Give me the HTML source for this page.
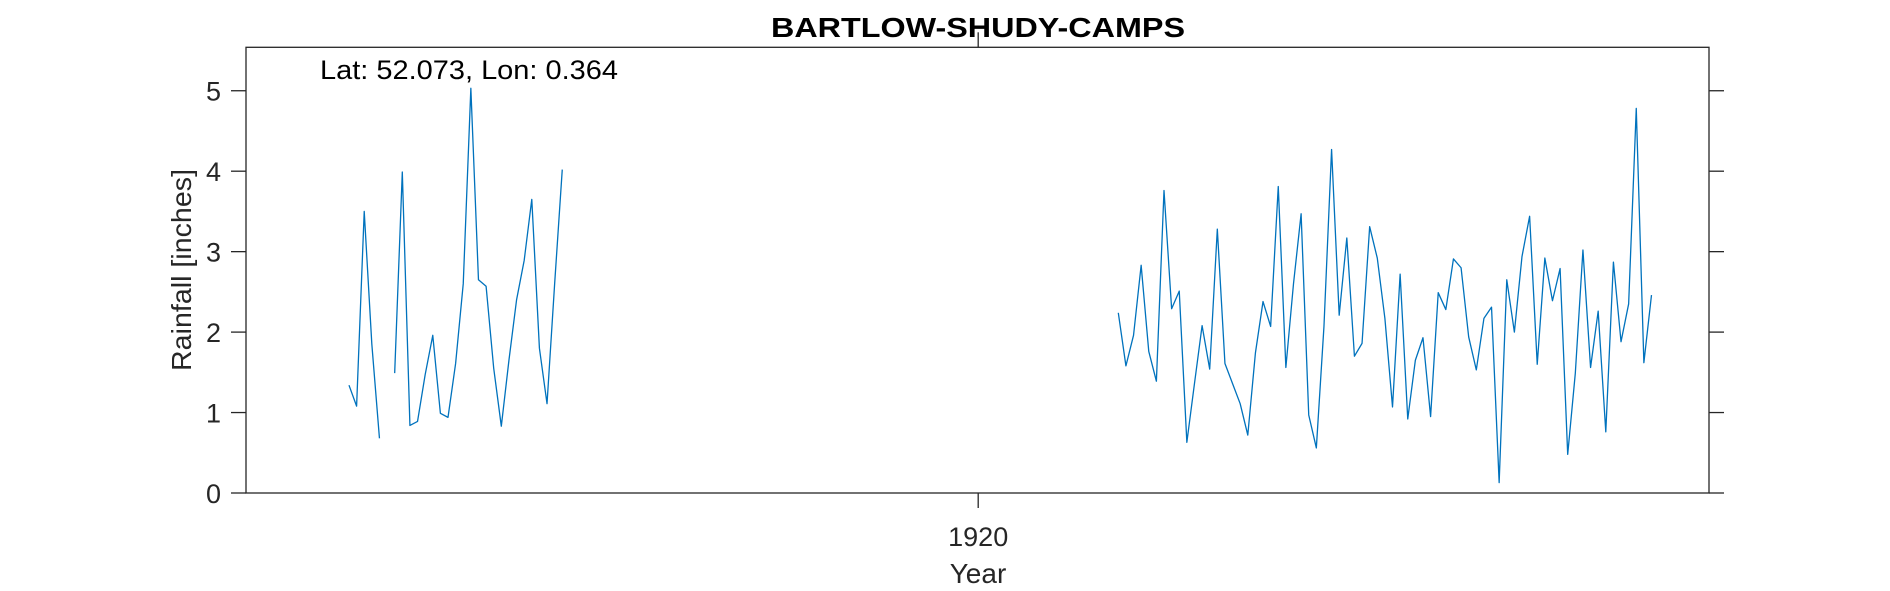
<!DOCTYPE html>
<html><head><meta charset="utf-8"><style>
html,body{margin:0;padding:0;background:#fff;}
svg{display:block;font-family:"Liberation Sans",Arial,sans-serif;}
</style></head><body>
<svg id="chart" width="1890" height="591" viewBox="0 0 1890 591" xmlns="http://www.w3.org/2000/svg">
<rect width="1890" height="591" fill="#fff"/>
<text x="978" y="37" text-anchor="middle" font-size="28" font-weight="bold" fill="#000" textLength="414" lengthAdjust="spacingAndGlyphs">BARTLOW-SHUDY-CAMPS</text>
<g id="axes"></g>
<g id="series"></g>
<text x="320" y="79" font-size="27" fill="#000" textLength="298" lengthAdjust="spacingAndGlyphs">Lat: 52.073, Lon: 0.364</text>
<text transform="translate(191,270) rotate(-90)" text-anchor="middle" font-size="28" fill="#262626" textLength="202" lengthAdjust="spacingAndGlyphs">Rainfall [inches]</text>
<text x="978" y="583" text-anchor="middle" font-size="28" fill="#262626">Year</text>
</svg>
<script>
const yearsA = [1837,1838,1839,1840,1841,1842,1843,1844,1845,1846,1847,1848,1849,1850,1851,1852,1853,1854,1855,1856,1857,1858,1859,1860,1861,1862,1863,1864,1865];
const rainA = [1.34,1.08,3.50,1.85,0.68,null,1.49,3.99,0.84,0.89,1.47,1.96,0.99,0.94,1.61,2.60,5.03,2.65,2.57,1.55,0.83,1.65,2.40,2.89,3.65,1.80,1.11,2.60,4.02];
const rainB = [2.24,1.58,1.96,2.83,1.76,1.39,3.76,2.29,2.51,0.63,1.36,2.08,1.54,3.28,1.61,1.36,1.11,0.72,1.74,2.38,2.07,3.81,1.56,2.60,3.47,0.97,0.56,2.07,4.27,2.21,3.17,1.70,1.86,3.31,2.92,2.17,1.07,2.72,0.92,1.65,1.93,0.95,2.49,2.28,2.91,2.80,1.94,1.53,2.17,2.31,0.13,2.65,2.00,2.94,3.44,1.60,2.92,2.39,2.79,0.48,1.49,3.02,1.56,2.26,0.76,2.87,1.88,2.35,4.78,1.62,2.46];
const startB = 1938;
const yTicks = [0,1,2,3,4,5];
const xTicks = [1920];
const xMin = 1823.48, xMax = 2015.55, yMin = 0, yMax = 5.54;
const L = 246, R = 1709, T = 47.3, B = 493;
const xs = v => L + (v - xMin) / (xMax - xMin) * (R - L);
const ys = v => B - (v - yMin) / (yMax - yMin) * (B - T);
const NS = 'http://www.w3.org/2000/svg';
const axes = document.getElementById('axes');
const series = document.getElementById('series');
function mk(tag, attrs, parent){const e=document.createElementNS(NS,tag);for(const k in attrs)e.setAttribute(k,attrs[k]);parent.appendChild(e);return e;}
const box = mk('rect',{x:L,y:T,width:R-L,height:B-T,fill:'none',stroke:'#262626','stroke-width':1.3},axes);


yTicks.forEach(t=>{
  const y=ys(t);
  const tl=mk('line',{x1:L-15,x2:L,y1:y,y2:y,stroke:'#262626','stroke-width':1.3},axes);
  
  
  const tr=mk('line',{x1:R,x2:R+15,y1:y,y2:y,stroke:'#262626','stroke-width':1.3},axes);
  
  
  const lb=mk('text',{x:L-25,y:y+10,'text-anchor':'end','font-size':27,fill:'#262626'},axes);
  lb.textContent=t;
  
  
});
xTicks.forEach(t=>{
  const x=xs(t)-3;
  const tb=mk('line',{x1:x,x2:x,y1:B,y2:B+15,stroke:'#262626','stroke-width':1.3},axes);
  
  
  const tt=mk('line',{x1:x,x2:x,y1:T-15,y2:T,stroke:'#262626','stroke-width':1.3},axes);
  
  
  const lb=mk('text',{x:x,y:546,'text-anchor':'middle','font-size':27,fill:'#262626'},axes);
  lb.textContent=t;
  
  
});
function drawSeg(years, vals){
  let d='', pen=false;
  for(let i=0;i<vals.length;i++){
    if(vals[i]===null){pen=false;continue;}
    d+=(pen?'L':'M')+xs(years[i]).toFixed(2)+' '+ys(vals[i]).toFixed(2)+' ';
    pen=true;
  }
  const p=mk('path',{d:d,fill:'none',stroke:'#0072BD','stroke-width':1.3,'stroke-linejoin':'round'},series);
  
  
}
drawSeg(yearsA, rainA);
drawSeg(rainB.map((_,i)=>startB+i), rainB);
</script>
</body></html>
